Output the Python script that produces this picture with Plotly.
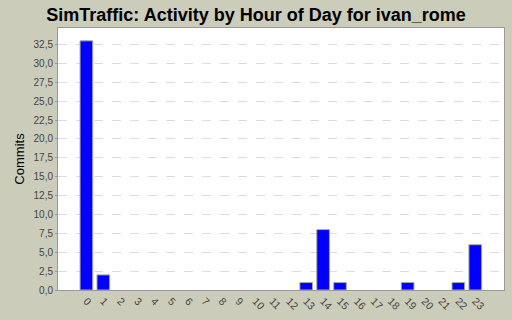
import plotly.graph_objects as go

hours = list(range(24))
hour_labels = [str(h) for h in hours]
commits = [33, 2, 0, 0, 0, 0, 0, 0, 0, 0, 0, 0, 0, 1, 8, 1, 0, 0, 0, 1, 0, 0, 1, 6]
y_ticks = [0, 2.5, 5, 7.5, 10, 12.5, 15, 17.5, 20, 22.5, 25, 27.5, 30, 32.5]
y_tick_labels = [f"{v:.1f}".replace(".", ",") for v in y_ticks]

# zero-height bars are not drawn in the reference
bar_values = [v if v else None for v in commits]

fig = go.Figure()
fig.add_trace(go.Bar(
    x=hours, y=bar_values, width=0.75,
    marker=dict(color="#0000FF", line=dict(color="#AAAAAA", width=1)),
))

fig.update_layout(
    width=512, height=320,
    margin=dict(l=58, r=8, t=28, b=30),
    paper_bgcolor="#CCCCBB",
    plot_bgcolor="#FFFFFF",
    showlegend=False,
    title=dict(text="<b>SimTraffic: Activity by Hour of Day for ivan_rome</b>",
               x=0.5, xanchor="center", y=0.955, yanchor="middle",
               font=dict(family="Liberation Sans, Arial, sans-serif", size=18, color="#000000")),
    font=dict(family="Liberation Sans, Arial, sans-serif", size=10, color="#444444"),
)
fig.update_xaxes(
    range=[-1.68, 24.7], tickvals=hours, ticktext=hour_labels, tickangle=45,
    showgrid=False, showline=True, linecolor="#999999", mirror=True,
    ticks="", tickfont=dict(size=10.5, color="#444444"), zeroline=False,
)
fig.update_yaxes(
    range=[0, 34.7], tickvals=y_ticks, ticktext=y_tick_labels,
    showgrid=True, gridcolor="#DDDDDD", griddash="dash", gridwidth=1,
    showline=True, linecolor="#999999", mirror=True, zeroline=False,
    ticks="outside", ticklen=2, tickcolor="#999999",
    tickfont=dict(size=10, color="#444444"),
    title=dict(text="Commits", font=dict(size=13, color="#000000"), standoff=5),
)

fig.write_html("out.html")
